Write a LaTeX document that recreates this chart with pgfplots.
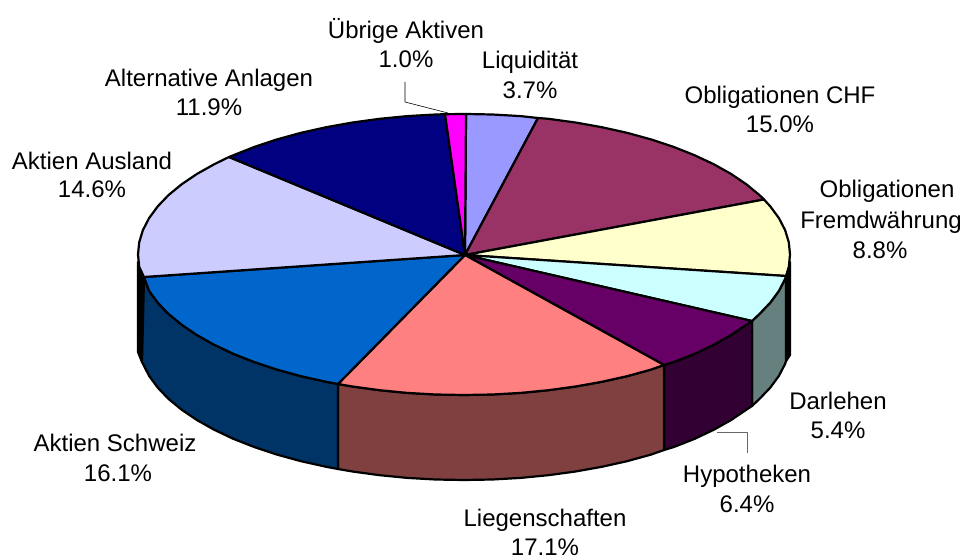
\documentclass[border=0pt]{standalone}
\usepackage{fontspec}
\setmainfont{Liberation Sans}
\usepackage{pgfplots}
\pgfplotsset{compat=1.18}
\tikzset{lbl/.style={anchor=base, font=\fontsize{24}{27}\selectfont, inner sep=0pt, text=black}}
\definecolor{cLiq}{HTML}{9999FF}
\definecolor{cCHF}{HTML}{993366}
\definecolor{cFrem}{HTML}{FFFFCC}
\definecolor{cDarl}{HTML}{CCFFFF}
\definecolor{cHyp}{HTML}{660066}
\definecolor{cLieg}{HTML}{FF8080}
\definecolor{cSchw}{HTML}{0066CC}
\definecolor{cAus}{HTML}{CCCCFF}
\definecolor{cAlt}{HTML}{000080}
\definecolor{cUeb}{HTML}{FF00FF}
\definecolor{sDarl}{HTML}{668080}
\definecolor{sHyp}{HTML}{330033}
\definecolor{sLieg}{HTML}{804040}
\definecolor{sSchw}{HTML}{003366}
\begin{document}
\begin{tikzpicture}
\begin{axis}[
  scale only axis, width=965pt, height=559pt,
  xmin=0, xmax=965, ymin=0, ymax=559, y dir=reverse,
  axis lines=none, clip=false,
  every axis plot/.append style={no markers, forget plot, draw=black, line width=2.2pt, line join=round},
]
\addplot[draw=none, line width=0pt] coordinates {(0,0)(965,559)};
% side walls
\addplot[fill=black] coordinates {(790,262)(786,276)(786,361)(790,355)} -- cycle;
\addplot[fill=black] coordinates {(138,262)(144,277)(142,362)(138,352)} -- cycle;
\addplot[fill=sDarl] coordinates {(786,276)(785.1,278.9)(778.9,290.9)(770.3,302.6)(759.5,313.9)(752,321)(752,406)(759.5,398.9)(770.3,387.6)(778.9,375.9)(785.1,363.9)(786,361)} -- cycle;
\addplot[fill=sHyp] coordinates {(752,321)(746.3,324.75)(731,335.1)(713.7,344.8)(694.5,353.9)(673.6,362.1)(664,365)(664,450)(673.6,447.1)(694.5,438.9)(713.7,429.8)(731,420.1)(746.3,409.75)(752,406)} -- cycle;
\addplot[fill=sLieg] coordinates {(664,365)(651,369.6)(627,376.2)(601.8,381.8)(575.5,386.5)(548.4,390.2)(520.6,392.9)(492.4,394.5)(464,395)(435.6,394.5)(407.4,392.9)(379.6,390.2)(352.5,386.5)(338,384)(338,469)(352.5,471.5)(379.6,475.2)(407.4,477.9)(435.6,479.5)(464,480)(492.4,479.5)(520.6,477.9)(548.4,475.2)(575.5,471.5)(601.8,466.8)(627,461.2)(651,454.6)(664,450)} -- cycle;
\addplot[fill=sSchw] coordinates {(338,384)(326.2,381.8)(301,376.2)(277,369.6)(254.4,362.1)(233.5,353.9)(214.3,344.8)(197,335.1)(181.7,324.75)(168.5,313.9)(157.7,302.6)(149.1,290.9)(144,277)(142,362)(149.1,375.9)(157.7,387.6)(168.5,398.9)(181.7,409.75)(197,420.1)(214.3,429.8)(233.5,438.9)(254.4,447.1)(277,454.6)(301,461.2)(326.2,466.8)(338,469)} -- cycle;
% top wedges
\addplot[fill=cLiq] coordinates {(465,255)(466,114)(492.4,114.5)(520.6,116.1)(538,118)} -- cycle;
\addplot[fill=cCHF] coordinates {(465,255)(538,118)(548.4,118.8)(575.5,122.5)(601.8,127.2)(627,132.8)(651,139.4)(673.6,146.9)(694.5,155.2)(713.7,164.2)(731,173.9)(746.3,184.25)(759.5,195.1)(764,199.5)} -- cycle;
\addplot[fill=cFrem] coordinates {(465,255)(764,199.5)(770.3,206.4)(778.9,218.1)(785.1,230.1)(788.8,242.3)(790,254.5)(788.8,266.8)(786,276)} -- cycle;
\addplot[fill=cDarl] coordinates {(465,255)(786,276)(785.1,278.9)(778.9,290.9)(770.3,302.6)(759.5,313.9)(752,321)} -- cycle;
\addplot[fill=cHyp] coordinates {(465,255)(752,321)(746.3,324.75)(731,335.1)(713.7,344.8)(694.5,353.9)(673.6,362.1)(664,365)} -- cycle;
\addplot[fill=cLieg] coordinates {(465,255)(664,365)(651,369.6)(627,376.2)(601.8,381.8)(575.5,386.5)(548.4,390.2)(520.6,392.9)(492.4,394.5)(464,395)(435.6,394.5)(407.4,392.9)(379.6,390.2)(352.5,386.5)(338,384)} -- cycle;
\addplot[fill=cSchw] coordinates {(465,255)(338,384)(326.2,381.8)(301,376.2)(277,369.6)(254.4,362.1)(233.5,353.9)(214.3,344.8)(197,335.1)(181.7,324.75)(168.5,313.9)(157.7,302.6)(149.1,290.9)(144,277)} -- cycle;
\addplot[fill=cAus] coordinates {(465,255)(144,277)(139.2,266.8)(138,254.5)(139.2,242.3)(142.9,230.1)(149.1,218.1)(157.7,206.4)(168.5,195.1)(181.7,184.25)(197,173.9)(214.3,164.2)(229,157)} -- cycle;
\addplot[fill=cAlt] coordinates {(465,255)(229,157)(233.5,155.2)(254.4,146.9)(277,139.4)(301,132.8)(326.2,127.2)(352.5,122.5)(379.6,118.8)(407.4,116.1)(435.6,114.5)(445,114.2)} -- cycle;
\addplot[fill=cUeb] coordinates {(465,255)(445,114.2)(464,114)(466,114)} -- cycle;
% leader lines
\addplot[draw=black, line width=0.6pt] coordinates {(405,82)(405,102)(448,113)};
\addplot[draw=black!60, line width=0.7pt] coordinates {(717,432)(747,432)(747,453)};
% labels
\node[lbl] at (axis cs:406,39) {Übrige Aktiven};
\node[lbl] at (axis cs:406,68) {1.0\%};
\node[lbl] at (axis cs:530,69) {Liquidität};
\node[lbl] at (axis cs:530,99) {3.7\%};
\node[lbl] at (axis cs:780,103) {Obligationen CHF};
\node[lbl] at (axis cs:780,132) {15.0\%};
\node[lbl] at (axis cs:887,197) {Obligationen};
\node[lbl] at (axis cs:881,228) {Fremdwährung};
\node[lbl] at (axis cs:880,258) {8.8\%};
\node[lbl] at (axis cs:838,409) {Darlehen};
\node[lbl] at (axis cs:838,438) {5.4\%};
\node[lbl] at (axis cs:747,482) {Hypotheken};
\node[lbl] at (axis cs:747,512) {6.4\%};
\node[lbl] at (axis cs:545,526) {Liegenschaften};
\node[lbl] at (axis cs:545,555) {17.1\%};
\node[lbl] at (axis cs:115,451) {Aktien Schweiz};
\node[lbl] at (axis cs:118,481) {16.1\%};
\node[lbl] at (axis cs:92,169) {Aktien Ausland};
\node[lbl] at (axis cs:92,197) {14.6\%};
\node[lbl] at (axis cs:209,87) {Alternative Anlagen};
\node[lbl] at (axis cs:209,116) {11.9\%};
\end{axis}
\end{tikzpicture}
\end{document}
